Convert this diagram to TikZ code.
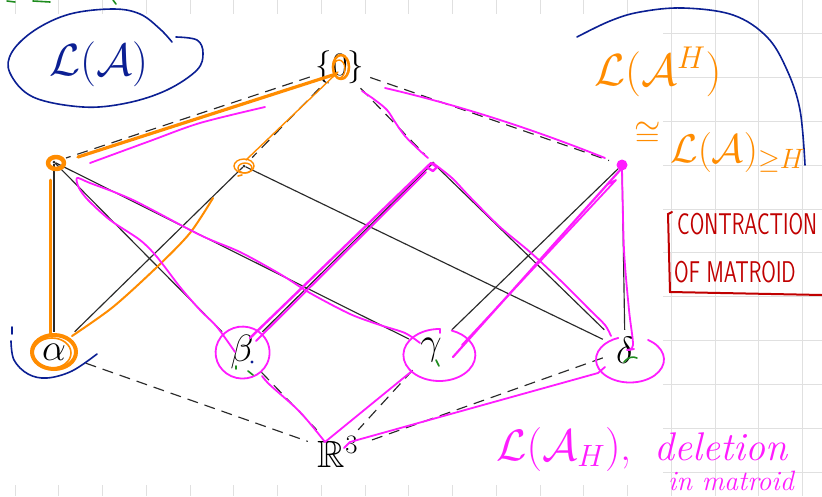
\RequirePackage{fix-cm}
\documentclass[tikz,border=0pt]{standalone}
\usepackage{amssymb}
\usetikzlibrary{calc}
\definecolor{inkblue}{HTML}{0B1F93}
\definecolor{inkorange}{HTML}{FF8C00}
\definecolor{inkpink}{HTML}{FF1CFF}
\definecolor{inkred}{HTML}{C00000}
\definecolor{inkgreen}{HTML}{1E8C1E}
\definecolor{gridgray}{HTML}{E0E0E0}
\definecolor{edgeink}{HTML}{2A2A2A}

\begin{document}
\begin{tikzpicture}[x=1pt,y=-1pt,
  hasse/.style={rectangle, inner sep=0pt, font=\fontsize{38}{44}\selectfont},
  atom/.style={hasse, minimum width=44pt, minimum height=40pt},
  extreme/.style={hasse, minimum width=60pt, minimum height=42pt},
  flat/.style={circle, fill=edgeink, inner sep=0pt, minimum size=3pt},
  cover/.style={draw=edgeink, line width=1.15pt},
  dcover/.style={draw=edgeink, line width=1.15pt, dash pattern=on 11pt off 7pt},
  pinkpen/.style={draw=inkpink, line width=1.8pt, line cap=round, line join=round},
  orangepen/.style={draw=inkorange, line width=2pt, line cap=round, line join=round},
  bluepen/.style={draw=inkblue, line width=1.6pt, line cap=round, line join=round},
  greenpen/.style={draw=inkgreen, line width=1.6pt, line cap=round},
  note/.style={inner sep=0pt, anchor=base west}]
\useasboundingbox (0,0) rectangle (822,496);

% squared paper behind the pasted lattice
\foreach \k in {0,...,18} \draw[gridgray, line width=0.8pt] ({15+43.75*\k},0) -- ({15+43.75*\k},496);
\foreach \k in {0,...,10} \draw[gridgray, line width=0.8pt] (0,{33.5+43.85*\k}) -- (822,{33.5+43.85*\k});
\fill[white] (0,14) rectangle (663,485);

% lattice of flats
\node[extreme, font=\fontsize{33}{40}\selectfont] (top) at (340,67) {$\{0\}$};
\node[flat] (a1) at (54,162) {};
\node[flat] (b1) at (244,166) {};
\node[flat] (c1) at (433,163) {};
\node[flat] (d1) at (622,165) {};
\node[atom] (al) at (54,352) {$\alpha$};
\node[atom] (be) at (242,352) {$\beta$};
\node[atom] (ga) at (431,350) {$\gamma$};
\node[atom] (de) at (625,350) {$\delta$};
\node[extreme, minimum height=44pt] (R) at (338,452) {$\mathbb{R}^3$};

\draw[dcover, shorten >=11pt] (top) -- (a1);
\draw[dcover, shorten >=10pt] (top) -- (b1);
\draw[dcover, shorten >=10pt] (top) -- (c1);
\draw[dcover, shorten >=12pt] (top) -- (d1);
\draw[cover] (a1) -- (al);
\draw[cover] (a1) -- (be);
\draw[cover] (a1) -- (ga);
\draw[cover] (b1) -- (al);
\draw[cover] (b1) -- (de);
\draw[cover] (c1) -- (be);
\draw[cover] (c1) -- (de);
\draw[cover] (d1) -- (ga);
\draw[cover] (d1) -- (de);
\draw[dcover, shorten <=10pt] (al) -- (R);
\draw[dcover] (be) -- (R);
\draw[dcover] (ga) -- (R);
\draw[dcover] (de) -- (R);

% blue: the whole lattice and the upper interval
\node[note, text=inkblue, font=\fontsize{45}{45}\selectfont] (LA) at (49,75) {$\mathcal{L}(\mathcal{A})$};
\draw[bluepen] plot[smooth, tension=0.6] coordinates {(172,42) (160,29) (140,14) (113,9) (70,14) (35,30) (12,52) (10,73) (33,97) (83,107) (127,103) (167,90) (197,70) (203,53) (197,40) (176,37)};
\draw[bluepen] plot[smooth, tension=0.6] coordinates {(577,37) (610,21) (640,12) (683,8) (733,15) (767,37) (787,70) (800,110) (805,165)};
\draw[bluepen] (12,327) -- (12,334);
\draw[bluepen] plot[smooth, tension=0.6] coordinates {(11,341) (14,360) (28,374) (47,378) (72,371) (97,354)};
\fill[inkblue] (252,362) circle (1.6pt);

% orange: contraction to H = alpha
\node[note, text=inkorange, font=\fontsize{45}{45}\selectfont] (LAH) at (594,85) {$\mathcal{L}(\mathcal{A}^{H})$};
\node[note, text=inkorange, font=\fontsize{34}{34}\selectfont] (iso) at (634,146) {$\cong$};
\node[note, text=inkorange, font=\fontsize{40}{40}\selectfont] (LAgeH) at (670,162) {$\mathcal{L}(\mathcal{A})_{\geq H}$};
\draw[orangepen, line width=4pt] (al.center) ellipse [x radius=22pt, y radius=17pt];
\draw[orangepen, line width=1.6pt] ($(al.center)+(-2,1)$) ellipse [x radius=19pt, y radius=15pt];
\draw[orangepen, line width=3pt] (50,180) -- (50,335);
\draw[orangepen] plot[smooth] coordinates {(72,336) (113,307) (157,267) (190,233) (213,198)};
\draw[orangepen, line width=4.5pt] ($(a1)+(2,1)$) ellipse [x radius=8pt, y radius=6pt];
\draw[orangepen, line width=3.2pt] (78,157) -- (336,74);
\draw[orangepen, line width=1.4pt] (b1.center) ellipse [x radius=10pt, y radius=7pt];
\draw[orangepen, line width=1.4pt] ($(b1)+(1,2)$) ellipse [x radius=7pt, y radius=5pt];
\draw[orangepen, line width=1.6pt] (238,176) -- (242,175);
\draw[orangepen, line width=1.4pt] (246,160) -- (338,72);
\draw[orangepen, line width=2.6pt] ($(top.center)+(1,0)$) ellipse [x radius=8pt, y radius=12pt];
\draw[orangepen, line width=1.4pt] ($(top.center)+(-1,2)$) ellipse [x radius=6pt, y radius=9pt];

% red: contraction
\draw[draw=inkred, line width=2pt, line cap=round] (672,212) -- (668,214) -- (670,292) -- (822,295);
\node[note, text=inkred, font=\sffamily\fontsize{30}{30}\selectfont] (contr) at (677,234) {\scalebox{0.7}[1]{CONTRACTION}};
\node[note, text=inkred, font=\sffamily\fontsize{30}{30}\selectfont] (matr) at (674,282) {\scalebox{0.7}[1]{OF MATROID}};

% pink: deletion of H = alpha
\node[note, text=inkpink, font=\fontsize{44}{44}\selectfont] (LAH2) at (496,460) {$\mathcal{L}(\mathcal{A}_H)$,};
\node[note, text=inkpink, font=\fontsize{40}{40}\selectfont\itshape] (del) at (654,460) {deletion};
\node[note, text=inkpink, font=\fontsize{28}{28}\selectfont\itshape] (inmat) at (668,490) {in matroid};
\draw[pinkpen] plot[smooth, tension=0.5] coordinates {(235,352) (217,327) (200,310) (180,287) (157,257) (140,240) (110,220) (88,200) (79,188) (77,178) (90,183) (133,200) (200,235) (240,252) (280,274) (310,293) (350,314) (380,325) (405,333) (420,343)};
\draw[pinkpen, line width=2.4pt] (250,338) -- (431,163) -- (437,167) -- (433,171) -- (428,168);
\draw[pinkpen, line width=2pt] (256,341) -- (426,172);
\draw[pinkpen] plot[smooth, tension=0.5] coordinates {(433,163) (452,178) (470,197) (500,227) (530,252) (560,280) (590,310) (605,325) (611,336)};
\draw[pinkpen, line width=2.2pt] (453,357) -- (622,168);
\draw[pinkpen] (462,345) -- (616,180) -- (608,184);
\draw[pinkpen] plot[smooth, tension=0.5] coordinates {(622,168) (624,250) (629,310) (633,345) (627,350) (634,349)};
\fill[inkpink] (d1) circle (5.5pt);
\draw[pinkpen] (385,88) .. controls (480,110) and (560,140) .. (605,158);
\draw[pinkpen] plot[smooth, tension=0.6] coordinates {(362,91) (375,100) (387,110) (395,122) (405,136) (418,149) (428,158)};
\draw[pinkpen] plot[smooth, tension=0.5] coordinates {(90,163) (150,141) (200,123) (265,107)};
\draw[pinkpen] ($(be.center)+(12,-23)$) arc[start angle=65, end angle=430, x radius=27pt, y radius=26pt];
\draw[pinkpen] (440,333) -- (440,329) arc[start angle=89, end angle=430, x radius=36pt, y radius=26pt];
\draw[pinkpen] (648,340) arc[start angle=58, end angle=-250, x radius=34pt, y radius=23pt];
\draw[pinkpen] plot[smooth, tension=0.5] coordinates {(262,376) (270,385) (300,412) (325,442)};
\draw[pinkpen] (325,442) -- (412,371);
\draw[pinkpen] (344,448) -- (350,442) -- (598,373) -- (605,367);

% green touches
\draw[greenpen] (236,366) -- (236,369);
\draw[greenpen] (248,371) -- (253,375);
\draw[greenpen] (436,360) -- (439,366);
\draw[greenpen] (624,362) .. controls (628,357) and (633,356) .. (637,358);
\draw[greenpen] (7,1) -- (15,2);
\draw[greenpen] (33,1) -- (50,2);
\draw[greenpen] (113,0) -- (116,4);
\end{tikzpicture}
\end{document}
